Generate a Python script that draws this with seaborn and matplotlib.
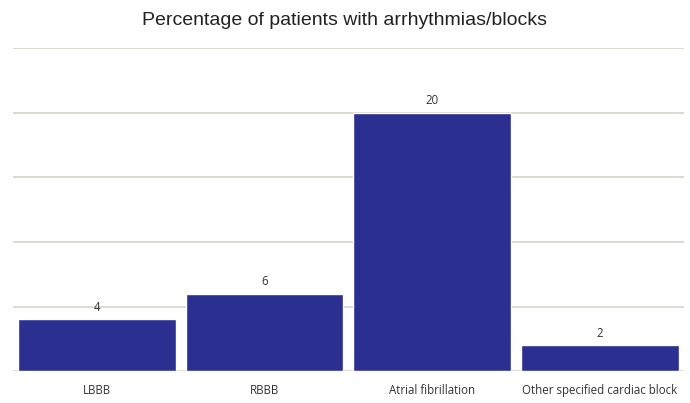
import matplotlib
matplotlib.use("Agg")
import matplotlib.pyplot as plt
import seaborn as sns
import pandas as pd

categories = ["LBBB", "RBBB", "Atrial fibrillation", "Other specified cardiac block"]
percentages = [4, 6, 20, 2]
title = "Percentage of patients with arrhythmias/blocks"

df = pd.DataFrame({"category": categories, "percent": percentages})

sns.set_theme(style="white")
plt.rcParams["font.family"] = ["Liberation Sans", "DejaVu Sans"]

fig = plt.figure(figsize=(6.9, 4.03), dpi=100)
ax = fig.add_axes([0.019, 0.079, 0.972, 0.802])

sns.barplot(data=df, x="category", y="percent", color="#2B3090",
            saturation=1, width=0.94, ax=ax, zorder=3)

ax.set_ylim(0, 25)
ax.set_yticks([0, 5, 10, 15, 20, 25])
ax.yaxis.grid(True, color="#D9D2CC", linewidth=1.2, zorder=0)
ax.set_yticklabels([])
ax.tick_params(axis="y", length=0)
ax.tick_params(axis="x", length=0, pad=9)
for s in ax.spines.values():
    s.set_visible(False)
ax.set_xlabel("")
ax.set_ylabel("")

for lbl in ax.get_xticklabels():
    lbl.set_fontfamily(["Open Sans", "DejaVu Sans"])
    lbl.set_fontsize(8.3)
    lbl.set_fontweight("medium")
    lbl.set_color("#333333")

for c in ax.containers:
    ax.bar_label(c, labels=[str(v) for v in percentages], padding=4,
                 fontsize=8.3, fontweight="medium", color="#333333",
                 family=["Open Sans", "DejaVu Sans"])

fig.text(0.5, 0.948, title, ha="center", va="center", fontsize=14,
         color="#222222", family=["Liberation Sans", "DejaVu Sans"])

fig.savefig("out.png", dpi=100, facecolor="white")
